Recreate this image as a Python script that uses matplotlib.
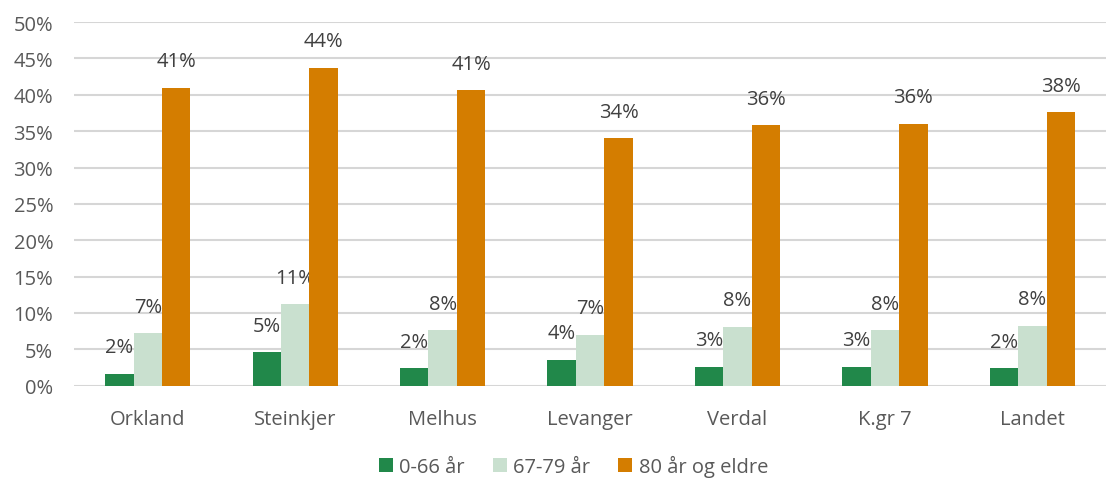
import numpy as np
import matplotlib.pyplot as plt
from matplotlib.ticker import FuncFormatter

# --- DATA ---
kommuner = ["Orkland", "Steinkjer", "Melhus", "Levanger", "Verdal", "K.gr 7", "Landet"]
serier = ["0-66 år", "67-79 år", "80 år og eldre"]
andel_0_66 = [1.6, 4.6, 2.4, 3.6, 2.6, 2.6, 2.4]
andel_67_79 = [7.2, 11.2, 7.6, 7.0, 8.1, 7.6, 8.2]
andel_80 = [41.0, 43.7, 40.6, 34.0, 35.8, 36.0, 37.6]

farger = ["#21884a", "#c9e0cf", "#d47d00"]

plt.rcParams['font.family'] = ['Open Sans', 'DejaVu Sans']

fig = plt.figure(figsize=(11.06, 4.81), dpi=100)
ax = fig.add_axes([0.067, 0.196, 0.933, 0.756])

x = np.arange(len(kommuner))
w = 0.193
for i, (vals, navn) in enumerate(zip([andel_0_66, andel_67_79, andel_80], serier)):
    pos = x + (i - 1) * w
    ax.bar(pos, vals, width=w, color=farger[i], label=navn, zorder=3)
    for px, v in zip(pos, vals):
        ax.text(px, v + 2.3, f"{round(v):d}%", ha='center', va='bottom',
                fontsize=14.5, color='#404040')

ax.set_xlim(-0.5, len(kommuner) - 0.5)
ax.set_ylim(0, 50)
ax.set_yticks(np.arange(0, 51, 5))
ax.yaxis.set_major_formatter(FuncFormatter(lambda v, p: f"{v:.0f}%"))
ax.set_xticks(x)
ax.set_xticklabels(kommuner)
ax.grid(axis='y', color='#d6d6d6', linewidth=1.5, zorder=0)
for s in ax.spines.values():
    s.set_visible(False)
ax.tick_params(length=0, labelsize=14.5, colors='#595959', pad=17)
ax.tick_params(axis='y', pad=15)

ax.legend(loc='center', bbox_to_anchor=(0.484, -0.22), ncol=3, frameon=False,
          fontsize=14.5, labelcolor='#595959', handlelength=0.7, handleheight=0.7,
          handletextpad=0.3, columnspacing=1.4)

fig.savefig("out.png", dpi=100)
